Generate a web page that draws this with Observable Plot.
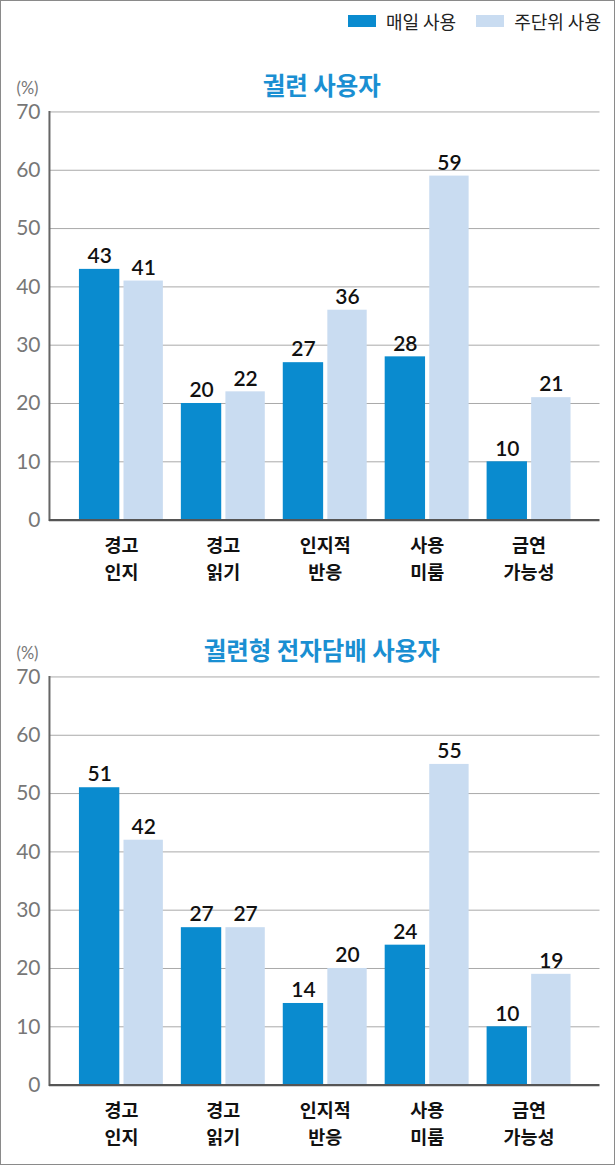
<!DOCTYPE html>
<html>
<head>
<meta charset="utf-8">
<script src="https://cdn.jsdelivr.net/npm/d3@7"></script>
<script src="https://cdn.jsdelivr.net/npm/@observablehq/plot@0.6"></script>
<style>
  html, body { margin: 0; padding: 0; background: #fff; }
  #wrap { position: relative; width: 615px; height: 1165px; box-sizing: border-box; border: 1.5px solid #8a8a8a; overflow: hidden; font-family: "Lato", "Noto Sans CJK KR", sans-serif; }
  .panel { position: absolute; left: -1.5px; }
  #legend { position: absolute; top: 7px; right: 13px; display: flex; align-items: center; font-family: "Noto Sans CJK KR", sans-serif; font-size: 18px; color: #222; }
  .sw { display: inline-block; width: 28px; height: 12px; margin-right: 10px; }
  .item { display: flex; align-items: center; margin-left: 20px; }
</style>
</head>
<body>
<div id="wrap">
  <div id="legend"></div>
  <div id="p1" class="panel" style="top:48.5px"></div>
  <div id="p2" class="panel" style="top:613.5px"></div>
</div>
<script>
const categories = ["경고\n인지", "경고\n읽기", "인지적\n반응", "사용\n미룸", "금연\n가능성"];
const seriesNames = ["매일 사용", "주단위 사용"];
const cigDaily = [43, 20, 27, 28, 10];
const cigWeekly = [41, 22, 36, 59, 21];
const htpDaily = [51, 27, 14, 24, 10];
const htpWeekly = [42, 27, 20, 55, 19];
const yTicks = [0, 10, 20, 30, 40, 50, 60, 70];
const panelTitles = ["궐련 사용자", "궐련형 전자담배 사용자"];

const DARK = "#0a8bcf";
const LIGHT = "#c9dcf1";
const TITLE = "#1a8fd2";

// legend
const legend = document.getElementById("legend");
[[seriesNames[0], DARK], [seriesNames[1], LIGHT]].forEach(([name, c]) => {
  const it = document.createElement("div");
  it.className = "item";
  it.innerHTML = `<span class="sw" style="background:${c}"></span><span>${name}</span>`;
  legend.appendChild(it);
});

function panel(title, daily, weekly) {
  const data = categories.map((c, i) => ({cat: c, daily: daily[i], weekly: weekly[i]}));
  return Plot.plot({
    width: 615,
    height: 550,
    marginLeft: 49,
    marginRight: 15,
    marginTop: 61.5,
    marginBottom: 80,
    style: {fontFamily: "Lato, 'Noto Sans CJK KR', sans-serif", background: "transparent", overflow: "visible"},
    x: {domain: categories, paddingInner: 0.18, paddingOuter: 0.265, label: null},
    y: {domain: [0, 70], label: null},
    marks: [
      Plot.ruleY(yTicks.filter(d => d > 0), {stroke: "#a9a9a9", strokeWidth: 1}),
      Plot.barY(data, {x: "cat", y: "daily", fill: DARK, insetRight: 43.6}),
      Plot.barY(data, {x: "cat", y: "weekly", fill: LIGHT, insetLeft: 44.6}),
      Plot.text(data, {x: "cat", y: "daily", text: d => String(d.daily), dx: -21.8, dy: -13, fontSize: 21, fontWeight: 600, fill: "#111"}),
      Plot.text(data, {x: "cat", y: "weekly", text: d => String(d.weekly), dx: 22.3, dy: -13, fontSize: 21, fontWeight: 600, fill: "#111"}),
      Plot.frame({anchor: "left", stroke: "#666", strokeWidth: 2}),
      Plot.ruleY([0], {stroke: "#555", strokeWidth: 2.2}),
      Plot.axisY({ticks: yTicks, tickSize: 0, tickPadding: 9, fontSize: 21, fill: "#777", label: null, tickFormat: d => String(d)}),
      Plot.axisX({tickSize: 0, tickPadding: 13, fontSize: 18.5, fontWeight: 700, fill: "#111", lineHeight: 1.46, label: null, fontFamily: "'Noto Sans CJK KR', sans-serif"}),
      Plot.text([title], {frameAnchor: "top", lineAnchor: "middle", dx: -3, dy: -25, fontSize: 24.5, fontWeight: 700, fill: TITLE, fontFamily: "'Noto Sans CJK KR', sans-serif"}),
      Plot.text(["(%)"], {frameAnchor: "top-left", lineAnchor: "middle", textAnchor: "start", dx: -33, dy: -23, fontSize: 16.5, fill: "#777"})
    ]
  });
}

document.getElementById("p1").appendChild(panel(panelTitles[0], cigDaily, cigWeekly));
document.getElementById("p2").appendChild(panel(panelTitles[1], htpDaily, htpWeekly));
</script>
</body>
</html>
